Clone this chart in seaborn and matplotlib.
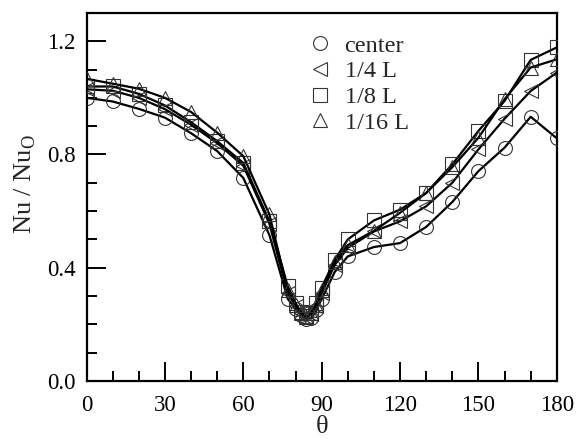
import numpy as np
import pandas as pd
import matplotlib
matplotlib.use("Agg")
import matplotlib.pyplot as plt
from matplotlib.lines import Line2D
from matplotlib.ticker import MultipleLocator, FormatStrFormatter
import seaborn as sns

theta = [0, 10, 20, 30, 40, 50, 60, 70, 77, 80, 82, 84, 86, 88, 90, 95,
         100, 110, 120, 130, 140, 150, 160, 170, 180]
center = [1.00, 0.987, 0.961, 0.93, 0.875, 0.812, 0.717, 0.515, 0.29, 0.255,
          0.232, 0.218, 0.222, 0.25, 0.29, 0.385, 0.44, 0.473, 0.487, 0.544,
          0.632, 0.741, 0.824, 0.933, 0.857]
quarter = [1.03, 1.025, 1.0, 0.96, 0.905, 0.84, 0.76, 0.555, 0.31, 0.265,
           0.24, 0.225, 0.235, 0.265, 0.31, 0.41, 0.47, 0.528, 0.564, 0.617,
           0.70, 0.818, 0.926, 1.024, 1.089]
eighth = [1.04, 1.04, 1.014, 0.973, 0.914, 0.847, 0.77, 0.564, 0.335, 0.275,
          0.245, 0.228, 0.24, 0.275, 0.33, 0.428, 0.50, 0.567, 0.605, 0.664,
          0.765, 0.883, 0.989, 1.134, 1.178]
sixteenth = [1.067, 1.05, 1.032, 1.0, 0.95, 0.877, 0.794, 0.588, 0.32, 0.27,
             0.24, 0.225, 0.24, 0.27, 0.32, 0.42, 0.48, 0.53, 0.594, 0.664,
             0.755, 0.859, 0.995, 1.107, 1.136]
labels = ["center", "1/4 L", "1/8 L", "1/16 L"]
markers = ["o", "<", "s", "^"]
series = [center, quarter, eighth, sixteenth]

sns.set_style("ticks")
plt.rcParams["font.family"] = ["Liberation Serif", "DejaVu Serif"]
plt.rcParams["mathtext.fontset"] = "custom"
plt.rcParams["mathtext.rm"] = "Liberation Serif"

fig = plt.figure(figsize=(5.77, 4.44), dpi=100)
ax = fig.add_axes([0.150, 0.142, 0.815, 0.829])

for vals, mk in zip(series, markers):
    df = pd.DataFrame({"theta": theta, "nu": vals})
    sns.lineplot(data=df, x="theta", y="nu", ax=ax, color="black",
                 linewidth=1.6, marker=mk, markersize=10, mfc="none",
                 mec="#333333", mew=0.8, zorder=3)

ax.set_xlim(0, 180)
ax.set_ylim(0, 1.3)
ax.xaxis.set_major_locator(MultipleLocator(30))
ax.xaxis.set_minor_locator(MultipleLocator(10))
ax.yaxis.set_major_locator(MultipleLocator(0.4))
ax.yaxis.set_minor_locator(MultipleLocator(0.1))
ax.yaxis.set_major_formatter(FormatStrFormatter("%.1f"))
ax.tick_params(which="both", direction="in", top=False, right=False,
               width=1.4, labelsize=16.5, color="black", labelcolor="black")
ax.tick_params(which="major", length=14)
ax.tick_params(which="minor", length=7)
ax.tick_params(axis="x", which="major", pad=10)
ax.tick_params(axis="y", which="major", pad=8)
for sp in ax.spines.values():
    sp.set_linewidth(1.6)
    sp.set_color("black")

ax.set_xlabel("θ", fontsize=19, labelpad=0)
ax.set_ylabel(r"Nu / Nu$_{\rm O}$", fontsize=19)
ax.yaxis.set_label_coords(-0.103, 0.535)

handles = [Line2D([], [], linestyle="none", marker=mk, markersize=10,
                  mfc="none", mec="#333333", mew=0.8) for mk in markers]
ax.legend(handles, labels, loc="upper left", bbox_to_anchor=(0.44, 0.98),
          frameon=False, fontsize=17.5, handletextpad=0.5, labelspacing=0.15,
          handlelength=1.0, borderaxespad=0.2)

fig.savefig("out.png", dpi=100)
